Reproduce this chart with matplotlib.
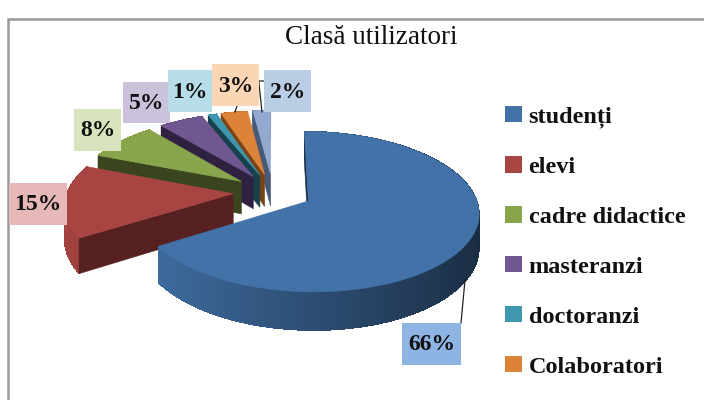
import numpy as np
import matplotlib
matplotlib.use("Agg")
import matplotlib.pyplot as plt
from matplotlib.patches import Polygon, Rectangle, Patch
from matplotlib.colors import to_rgb

title = "Clasă utilizatori"
categories = ["studenți", "elevi", "cadre didactice", "masteranzi", "doctoranzi", "Colaboratori", ""]
shares = [66, 15, 8, 5, 1, 3, 2]
labels = ["66%", "15%", "8%", "5%", "1%", "3%", "2%"]

top_colors = ["#4272A8", "#A84543", "#88A54B", "#71578F", "#3F97AF", "#DD8337", "#93A9CF"]
side_colors = ["#1B3048", "#562120", "#3A451F", "#2F2140", "#18414E", "#7A4415", "#465A78"]
box_colors = ["#8EB4E3", "#E6B9B8", "#D7E4BD", "#CCC1DA", "#B7DEE8", "#FCD5B5", "#B9CDE5"]
# label boxes in pixels: left, top, right, bottom
boxes = [(402, 323, 461, 365), (9, 183, 67, 225), (74, 109, 121, 151), (123, 82, 170, 123),
         (168, 70, 212, 112), (212, 64, 259, 106), (264, 70, 311, 112)]

# projection of the exploded pie
OX, OY, A, B, K, DEPTH, EXPLODE = 273, 192, 166, 76.5, 0.13, 33, 0.24


def project(X, Y, down=0.0):
    s = 1 / (1 + K * Y)
    return OX + A * X * s, OY - B * Y * s + down * s


fig = plt.figure(figsize=(7.04, 4.0), dpi=100)
ax = fig.add_axes([0, 0, 1, 1])
ax.set_xlim(0, 704)
ax.set_ylim(400, 0)
ax.axis("off")

# chart frame
ax.plot([8, 8, 704], [400, 19, 19], color="#9A9A9A", lw=1.8, solid_joinstyle="miter", zorder=1)

edges = np.cumsum([0] + shares) / sum(shares) * 2 * np.pi
order = [6, 5, 4, 3, 2, 1, 0]
z = 2
for i in order:
    a0, a1 = edges[i], edges[i + 1]
    mid = (a0 + a1) / 2
    ex, ey = EXPLODE * np.sin(mid), EXPLODE * np.cos(mid)
    th = np.linspace(a0, a1, max(8, int((a1 - a0) * 80)))
    X, Y = ex + np.sin(th), ey + np.cos(th)
    base = np.array(to_rgb(top_colors[i]))
    # outer rim with shading; each strip overlaps the next so no seams show
    for j in range(len(th) - 1):
        f = 0.68 - 0.30 * np.sin((th[j] + th[j + 1]) / 2)
        k = min(j + 3, len(th) - 1)
        p = [project(X[j], Y[j]), project(X[k], Y[k]),
             project(X[k], Y[k], DEPTH), project(X[j], Y[j], DEPTH)]
        ax.add_patch(Polygon(p, closed=True, fc=base * f, ec="none", antialiased=False, zorder=z))
    z += 1
    # radial cut face at the start angle
    p = [project(ex, ey), project(X[0], Y[0]), project(X[0], Y[0], DEPTH), project(ex, ey, DEPTH)]
    ax.add_patch(Polygon(p, closed=True, fc=side_colors[i], ec=side_colors[i], lw=0.4, zorder=z))
    z += 1
    # top face
    pts = [project(ex, ey)] + [project(x, y) for x, y in zip(X, Y)]
    ax.add_patch(Polygon(pts, closed=True, fc=top_colors[i], ec=top_colors[i], lw=0.4, zorder=z))
    z += 1

# leader lines
ax.plot([465, 461], [280, 323], color="#222222", lw=0.9, zorder=z)
ax.plot([235, 237], [112, 106], color="#222222", lw=0.9, zorder=z)
ax.plot([262, 259, 259, 264], [112, 84, 81, 81], color="#222222", lw=0.9, zorder=z)
z += 1

SERIF = "Liberation Serif"
for lab, box, col in zip(labels, boxes, box_colors):
    l, t, r, b = box
    ax.add_patch(Rectangle((l, t), r - l, b - t, fc=col, ec="none", zorder=z))
    ax.text((l + r) / 2, (t + b) / 2 + 1, lab, ha="center", va="center", family=SERIF,
            weight="bold", fontsize=17, color="#111111", zorder=z + 1)

ax.text(371, 38, title, ha="center", va="center", family=SERIF, fontsize=19.5,
        color="#111111", zorder=z)

handles = [Patch(fc=c, ec="none", label=n) for c, n in zip(top_colors[:6], categories[:6])]
leg = ax.legend(handles=handles, loc="upper left", bbox_to_anchor=(495, 96),
                bbox_transform=ax.transData, frameon=False,
                prop={"family": SERIF, "weight": "bold", "size": 17.5},
                handlelength=0.72, handleheight=0.66, handletextpad=0.26,
                labelspacing=1.16, borderpad=0.4, borderaxespad=0)
for t in leg.get_texts():
    t.set_color("#111111")

fig.savefig("out.png", dpi=100)
